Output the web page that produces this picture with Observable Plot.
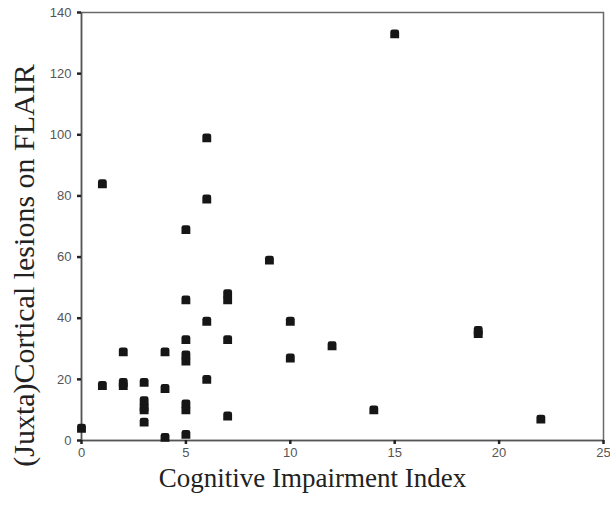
<!DOCTYPE html>
<html>
<head>
<meta charset="utf-8">
<script src="https://cdn.jsdelivr.net/npm/d3@7"></script>
<script src="https://cdn.jsdelivr.net/npm/@observablehq/plot@0.6"></script>
<style>
  html, body { margin: 0; padding: 0; background: #fff; }
  #chart svg { display: block; }
</style>
</head>
<body>
<div id="chart"></div>
<script>
// Cognitive impairment index (x) and (juxta)cortical lesion count (y), one entry per patient
const cognitiveIndex = [0, 1, 1, 2, 2, 2, 3, 3, 3, 3, 3, 4, 4, 4,
  5, 5, 5, 5, 5, 5, 5, 5, 6, 6, 6, 6, 7, 7, 7, 7, 9, 10, 10, 12, 14, 15, 19, 19, 22];
const lesions = [4, 84, 18, 29, 19, 18, 19, 13, 11, 10, 6, 29, 17, 1,
  69, 46, 33, 28, 26, 12, 10, 2, 99, 79, 39, 20, 48, 46, 33, 8, 59, 39, 27, 31, 10, 133, 36, 35, 7];

const xTicks = [0, 5, 10, 15, 20, 25];
const yTicks = [0, 20, 40, 60, 80, 100, 120, 140];
const xTitle = "Cognitive Impairment Index";
const yTitle = "(Juxta)Cortical lesions on FLAIR";

const patients = cognitiveIndex.map((x, i) => ({cii: x, cl: lesions[i]}));

// Square marker with rounded upper corners
const roundedSquare = {
  draw(context, size) {
    const h = Math.sqrt(size) / 2, c = h * 0.55;
    context.moveTo(-h, h);
    context.lineTo(-h, -h + c);
    context.quadraticCurveTo(-h, -h, -h + c, -h);
    context.lineTo(h - c, -h);
    context.quadraticCurveTo(h, -h, h, -h + c);
    context.lineTo(h, h);
    context.closePath();
  }
};

const serif = "'Liberation Serif', 'Times New Roman', serif";
const sans = "'Liberation Sans', Arial, sans-serif";

const chart = Plot.plot({
  width: 610,
  height: 506,
  marginLeft: 81,
  marginRight: 7,
  marginTop: 12,
  marginBottom: 66,
  style: {background: "#fff", fontFamily: sans, overflow: "visible"},
  x: {domain: [0, 25]},
  y: {domain: [0, 140]},
  marks: [
    Plot.frame({stroke: "#6a6a6a", strokeWidth: 1.5}),
    Plot.ruleX([0], {stroke: "#555", strokeWidth: 1.5}),
    Plot.ruleY([0], {stroke: "#555", strokeWidth: 1.5}),
    Plot.axisY(yTicks, {
      tickSize: 4, tickPadding: 6, stroke: "#222", strokeWidth: 2.5,
      fill: "#555", fontSize: 13, label: null
    }),
    Plot.axisX(xTicks, {
      tickSize: 4, tickPadding: 3, stroke: "#222", strokeWidth: 2.5,
      fill: "#555", fontSize: 13, label: null
    }),
    Plot.dot(patients, {
      x: "cii", y: "cl", symbol: roundedSquare, r: 5,
      fill: "#161616", stroke: "none"
    }),
    Plot.text([xTitle], {
      frameAnchor: "bottom", lineAnchor: "bottom", textAnchor: "middle", dx: -30, dy: 46,
      fontFamily: serif, fontSize: 27, fill: "#222"
    }),
    Plot.text([yTitle], {
      frameAnchor: "left", lineAnchor: "bottom", textAnchor: "middle", rotate: -90, dx: -48, dy: 39,
      fontFamily: serif, fontSize: 30, fill: "#222"
    })
  ]
});

document.getElementById("chart").append(chart);
</script>
</body>
</html>
